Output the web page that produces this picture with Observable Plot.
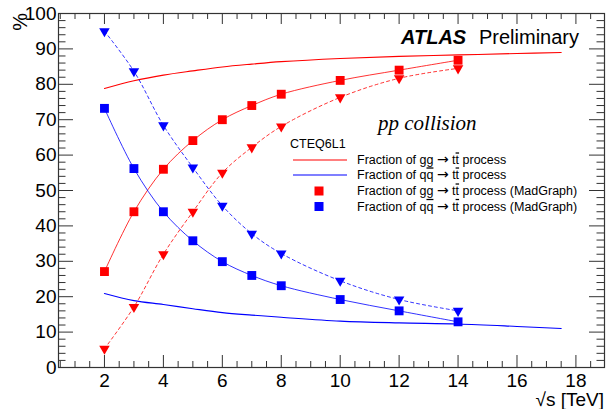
<!DOCTYPE html>
<html>
<head>
<meta charset="utf-8">
<script src="https://cdn.jsdelivr.net/npm/d3@7"></script>
<script src="https://cdn.jsdelivr.net/npm/@observablehq/plot@0.6"></script>
<style>
  html, body { margin: 0; padding: 0; background: white; }
  svg { display: block; }
</style>
</head>
<body>
<div id="chart"></div>
<script>
// MadGraph points
const sqrtS = [2, 3, 4, 5, 6, 7, 8, 10, 12, 14];
const ggMG  = [27.1, 44, 56, 64.1, 70, 74, 77.2, 81.1, 84, 86.8];
const qqMG  = [73.2, 56.2, 44, 35.8, 29.9, 26, 23.1, 19.2, 16, 12.9];
const ggTri = [5.3, 17.1, 32, 44, 55, 62.2, 68.1, 76.3, 81.7, 84.5];
const qqTri = [95, 83.7, 68.4, 56.5, 45.7, 37.8, 32.2, 24.5, 19.2, 16];
// CTEQ6L1 curves
const curveS = [2, 3, 4, 5, 6, 7, 8, 10, 12, 14, 16, 17.5];
const ggCTEQ = [78.8, 81.0, 82.6, 83.8, 84.9, 85.7, 86.4, 87.3, 87.9, 88.3, 88.7, 89.0];
const qqCTEQ = [20.9, 18.9, 17.8, 16.6, 15.5, 14.8, 14.2, 13.1, 12.6, 12.3, 11.6, 11.0];
// axis ticks
const xMajor = [2, 4, 6, 8, 10, 12, 14, 16, 18];
const xMinor = d3.range(0.5, 18.9, 0.5).filter(v => v % 2 !== 0);
const yMajor = [0, 10, 20, 30, 40, 50, 60, 70, 80, 90, 100];
const yMinor = d3.range(2, 100, 2).filter(v => v % 10 !== 0);

const W = 606, H = 409;
const mL = 58, mR = 2, mT = 13, mB = 42;
const pW = W - mL - mR, pH = H - mT - mB;

const mg = sqrtS.map((s, i) => ({s, gg: ggMG[i], qq: qqMG[i], ggT: ggTri[i], qqT: qqTri[i]}));
const cteq = curveS.map((s, i) => ({s, gg: ggCTEQ[i], qq: qqCTEQ[i]}));

const red = "#ff0000", blue = "#0000ff", ax = "#333";

const chart = Plot.plot({
  width: W, height: H,
  marginLeft: mL, marginRight: mR, marginTop: mT, marginBottom: mB,
  style: {fontFamily: "'Liberation Sans', Arial, sans-serif", background: "white", color: "black"},
  x: {domain: [0.44, 18.97], label: null},
  y: {domain: [0, 100], label: null},
  marks: [
    // CTEQ curves
    Plot.line(cteq, {x: "s", y: "gg", stroke: red, strokeWidth: 1.1, curve: "catmull-rom"}),
    Plot.line(cteq, {x: "s", y: "qq", stroke: blue, strokeWidth: 1.1, curve: "catmull-rom"}),
    // MadGraph connecting lines
    Plot.line(mg, {x: "s", y: "gg", stroke: red, strokeWidth: 1, strokeOpacity: 0.8, curve: "catmull-rom"}),
    Plot.line(mg, {x: "s", y: "qq", stroke: blue, strokeWidth: 1, strokeOpacity: 0.8, curve: "catmull-rom"}),
    Plot.line(mg, {x: "s", y: "ggT", stroke: red, strokeWidth: 1, strokeOpacity: 0.8, strokeDasharray: "3,3", curve: "catmull-rom"}),
    Plot.line(mg, {x: "s", y: "qqT", stroke: blue, strokeWidth: 1, strokeOpacity: 0.8, strokeDasharray: "3,3", curve: "catmull-rom"}),
    // markers
    Plot.dot(mg, {x: "s", y: "gg", symbol: "square", r: 5, fill: red, stroke: "none"}),
    Plot.dot(mg, {x: "s", y: "qq", symbol: "square", r: 5, fill: blue, stroke: "none"}),
    Plot.dot(mg, {x: "s", y: "ggT", symbol: "triangle", r: 3.9, rotate: 180, fill: red, stroke: "none"}),
    Plot.dot(mg, {x: "s", y: "qqT", symbol: "triangle", r: 3.9, rotate: 180, fill: blue, stroke: "none"}),
    // frame and ticks (inward, ROOT style)
    Plot.frame({stroke: ax, strokeWidth: 1.2}),
    Plot.tickY(yMajor, {y: d => d, insetRight: pW - 15, stroke: ax}),
    Plot.tickY(yMinor, {y: d => d, insetRight: pW - 7.5, stroke: ax}),
    Plot.tickY(yMajor, {y: d => d, insetLeft: pW - 15, stroke: ax}),
    Plot.tickY(yMinor, {y: d => d, insetLeft: pW - 7.5, stroke: ax}),
    Plot.tickX(xMajor, {x: d => d, insetTop: pH - 12, stroke: ax}),
    Plot.tickX(xMinor, {x: d => d, insetTop: pH - 6, stroke: ax}),
    Plot.tickX(xMajor, {x: d => d, insetBottom: pH - 11, stroke: ax}),
    Plot.tickX(xMinor, {x: d => d, insetBottom: pH - 6, stroke: ax}),
    Plot.axisY({ticks: yMajor, tickSize: 0, tickPadding: 2, fontSize: 19, label: null}),
    Plot.axisX({ticks: xMajor, tickSize: 0, tickPadding: 6, fontSize: 19, label: null})
  ]
});
document.getElementById("chart").appendChild(chart);

const svg = d3.select(chart);
const g = svg.append("g")
  .attr("font-family", "'Liberation Sans', Arial, sans-serif")
  .attr("fill", "black")
  .attr("text-anchor", "start");

// axis titles
g.append("text").attr("transform", "translate(27,13) rotate(-90)").attr("text-anchor", "end")
  .attr("font-size", 20).text("%");
g.append("text").attr("x", 604).attr("y", 406).attr("text-anchor", "end")
  .attr("font-size", 19).text("\u221As [TeV]");

// ATLAS Preliminary
g.append("text").attr("x", 401).attr("y", 43.5).attr("font-size", 20)
  .attr("font-weight", "bold").attr("font-style", "italic").text("ATLAS");
g.append("text").attr("x", 479).attr("y", 43.5).attr("font-size", 20).text("Preliminary");

// pp collision
g.append("text").attr("x", 378).attr("y", 130).attr("font-size", 21)
  .attr("font-family", "'Liberation Serif', 'Times New Roman', serif")
  .attr("font-style", "italic").text("pp collision");

// legend
const fs = 12.5;
g.append("text").attr("x", 290).attr("y", 147.5).attr("font-size", fs).text("CTEQ6L1");
const rows = [
  {y: 160, kind: "line", color: red, proc: "gg", mg: false},
  {y: 175, kind: "line", color: blue, proc: "qq", mg: false},
  {y: 191, kind: "sq", color: red, proc: "gg", mg: true},
  {y: 206.5, kind: "sq", color: blue, proc: "qq", mg: true}
];
rows.forEach(r => {
  if (r.kind === "line") {
    g.append("line").attr("x1", 293).attr("x2", 347).attr("y1", r.y).attr("y2", r.y)
      .attr("stroke", r.color).attr("stroke-width", 1.1);
  } else {
    g.append("rect").attr("x", 319 - 4.5).attr("y", r.y - 4.5).attr("width", 9).attr("height", 9)
      .attr("fill", r.color);
  }
  const t = g.append("text").attr("x", 357).attr("y", r.y + 4.4).attr("font-size", fs);
  if (r.proc === "gg") {
    t.append("tspan").text("Fraction of gg ");
  } else {
    t.append("tspan").text("Fraction of q");
    t.append("tspan").attr("text-decoration", "overline").text("q");
    t.append("tspan").text(" ");
  }
  t.append("tspan").attr("font-family", "'DejaVu Sans', sans-serif").attr("font-size", 14).text("\u2192");
  t.append("tspan").text(" t");
  t.append("tspan").attr("text-decoration", "overline").text("t");
  t.append("tspan").text(r.mg ? " process (MadGraph)" : " process");
});
</script>
</body>
</html>
